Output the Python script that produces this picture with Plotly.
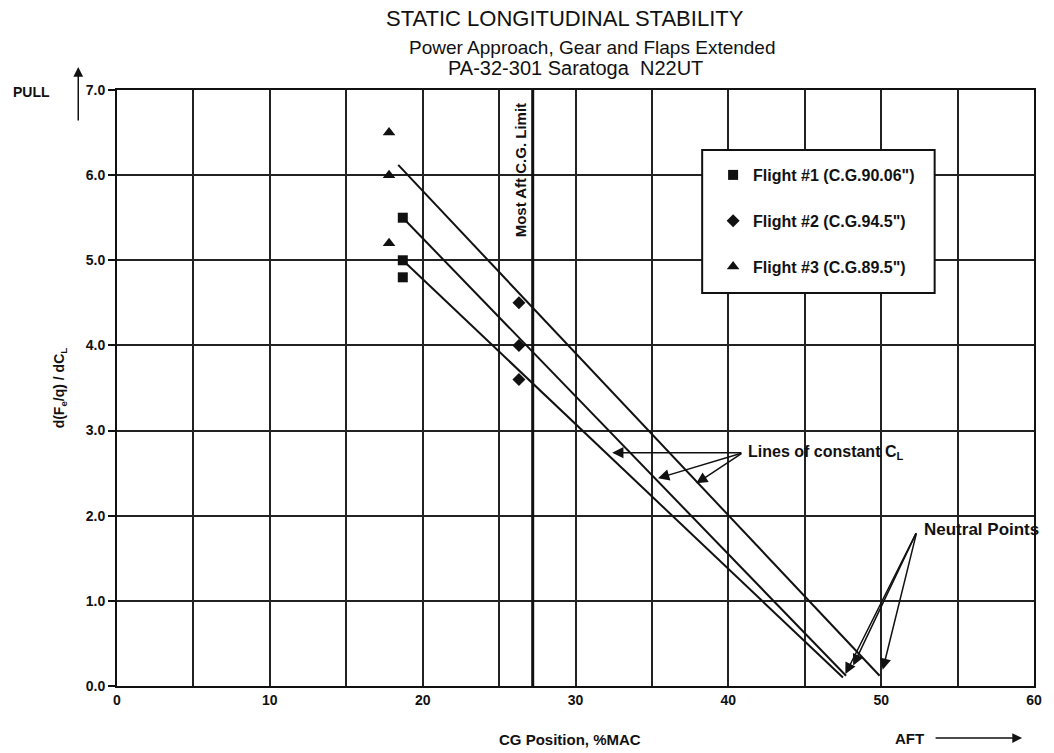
import plotly.graph_objects as go

# ---- data ----
flight1_x = [18.7, 18.7, 18.7]
flight1_y = [5.5, 5.0, 4.8]
flight2_x = [26.3, 26.3, 26.3]
flight2_y = [4.5, 4.0, 3.6]
flight3_x = [17.8, 17.8, 17.8]
flight3_y = [6.5, 6.0, 5.2]

# lines of constant CL, from start point to neutral point
line_top_x = [18.4, 49.9]
line_top_y = [6.12, 0.12]
line_mid_x = [18.7, 47.7]
line_mid_y = [5.5, 0.12]
line_bot_x = [18.7, 47.5]
line_bot_y = [5.0, 0.10]

aft_cg_limit = 27.2

flight_names = ['Flight #1 (C.G.90.06")', 'Flight #2 (C.G.94.5")', 'Flight #3 (C.G.89.5")']

x_tick_vals = list(range(0, 61, 5))
x_tick_text = [str(v) if v % 10 == 0 else "" for v in x_tick_vals]

FONT = "Liberation Sans, Arial, Helvetica, sans-serif"
INK = "#111111"

fig = go.Figure()

for xs, ys in [(line_top_x, line_top_y), (line_mid_x, line_mid_y), (line_bot_x, line_bot_y)]:
    fig.add_trace(go.Scatter(x=xs, y=ys, mode="lines", line=dict(color=INK, width=2),
                             showlegend=False, hoverinfo="skip"))

fig.add_trace(go.Scatter(x=[aft_cg_limit, aft_cg_limit], y=[0, 7], mode="lines",
                         line=dict(color=INK, width=3), showlegend=False, hoverinfo="skip"))

for xs, ys, name, sym, sz, grp in [
    (flight1_x, flight1_y, flight_names[0], "square", 10, "g1"),
    (flight2_x, flight2_y, flight_names[1], "diamond", 10, "g2"),
    (flight3_x, flight3_y, flight_names[2], "triangle-up", 11, "g3"),
]:
    fig.add_trace(go.Scatter(x=xs, y=ys, mode="markers", name=name, legendgroup=grp,
                             marker=dict(symbol=sym, size=sz, color=INK, line=dict(width=0))))

axis_common = dict(showline=True, linewidth=2, linecolor=INK, mirror=True,
                   showgrid=True, gridcolor="#222222", gridwidth=1.5, zeroline=False)

fig.update_xaxes(range=[0, 60], tickvals=x_tick_vals, ticktext=x_tick_text, ticks="",
                 tickfont=dict(family=FONT, size=14, color=INK, weight="bold"), **axis_common)
fig.update_yaxes(range=[0, 7], dtick=1, tickformat=".1f", ticks="outside", ticklen=7,
                 tickwidth=1.5, tickcolor=INK,
                 tickfont=dict(family=FONT, size=14, color=INK, weight="bold"), **axis_common)

# legend frame
fig.add_shape(type="rect", xref="paper", yref="paper",
              x0=(706 - 117) / 923, x1=(940 - 117) / 923,
              y0=(686 - 293) / 596, y1=(686 - 150) / 596,
              fillcolor="white", line=dict(color=INK, width=2), layer="above")


def px_x(p):
    return (p - 117) / 923


def px_y(p):
    return (686 - p) / 596


anns = []
# titles
anns.append(dict(text="STATIC LONGITUDINAL STABILITY", x=px_x(568), y=px_y(19), font=dict(size=22)))
anns.append(dict(text="Power Approach, Gear and Flaps Extended", x=px_x(596), y=px_y(47), font=dict(size=19)))
anns.append(dict(text="PA-32-301 Saratoga  N22UT", x=px_x(579), y=px_y(68), font=dict(size=20)))
for a in anns:
    a.update(xref="paper", yref="paper", showarrow=False, xanchor="center", yanchor="middle")
    a["font"].update(family=FONT, color=INK)

bold = dict(family=FONT, color=INK, weight="bold")

# axis titles / side labels
anns.append(dict(text="CG Position, %MAC", xref="paper", yref="paper", x=px_x(573), y=px_y(739),
                 xanchor="center", yanchor="middle", showarrow=False, font=dict(size=15, **bold)))
anns.append(dict(text="d(F<sub>e</sub>/q) / dC<sub>L</sub>", xref="paper", yref="paper",
                 x=px_x(60), y=px_y(388), xanchor="center", yanchor="middle", textangle=-90,
                 showarrow=False, font=dict(size=14, **bold)))
anns.append(dict(text="PULL", xref="paper", yref="paper", x=px_x(31), y=px_y(92),
                 xanchor="center", yanchor="middle", showarrow=False, font=dict(size=14, **bold)))
anns.append(dict(text="", xref="paper", yref="paper", x=px_x(78), y=px_y(67),
                 ax=0, ay=55, showarrow=True, arrowhead=2, arrowsize=1.3, arrowwidth=1.5,
                 arrowcolor=INK))
anns.append(dict(text="AFT", xref="paper", yref="paper", x=px_x(898), y=px_y(738),
                 xanchor="left", yanchor="middle", showarrow=False, font=dict(size=15, **bold)))
anns.append(dict(text="", xref="paper", yref="paper", x=px_x(1028), y=px_y(738),
                 ax=-88, ay=0, showarrow=True, arrowhead=2, arrowsize=1.3, arrowwidth=1.5,
                 arrowcolor=INK))

# CG limit label
anns.append(dict(text="Most Aft C.G. Limit", x=26.39, y=6.06, textangle=-90, showarrow=False,
                 xanchor="center", yanchor="middle", font=dict(size=15, **bold)))

# Lines of constant CL
tail = (40.95, 2.74)
for hx, hy in [(32.4, 2.74), (35.4, 2.44), (37.9, 2.38)]:
    anns.append(dict(text="", x=hx, y=hy, ax=tail[0], ay=tail[1], axref="x", ayref="y",
                     showarrow=True, arrowhead=2, arrowsize=1.5, arrowwidth=1.5, arrowcolor=INK))
anns.append(dict(text="Lines of constant C<sub>L</sub>", x=41.15, y=2.74, xanchor="left",
                 yanchor="middle", showarrow=False, font=dict(size=16, **bold)))

# Neutral points
tail = (52.33, 1.81)
for hx, hy in [(47.66, 0.14), (48.17, 0.24), (50.1, 0.19)]:
    anns.append(dict(text="", x=hx, y=hy, ax=tail[0], ay=tail[1], axref="x", ayref="y",
                     showarrow=True, arrowhead=2, arrowsize=1.5, arrowwidth=1.5, arrowcolor=INK))
anns.append(dict(text="Neutral Points", x=52.66, y=1.844, xanchor="left", yanchor="middle",
                 showarrow=False, font=dict(size=17, **bold)))

fig.update_layout(
    width=1054, height=753,
    margin=dict(l=117, r=14, t=90, b=67),
    paper_bgcolor="white", plot_bgcolor="white",
    font=dict(family=FONT, color=INK),
    annotations=anns,
    showlegend=True,
    legend=dict(x=px_x(717), xanchor="left", y=px_y(158), yanchor="top",
                bgcolor="rgba(0,0,0,0)", borderwidth=0, tracegroupgap=22, itemwidth=30,
                font=dict(size=16, **bold)),
)

fig.write_html("out.html")
